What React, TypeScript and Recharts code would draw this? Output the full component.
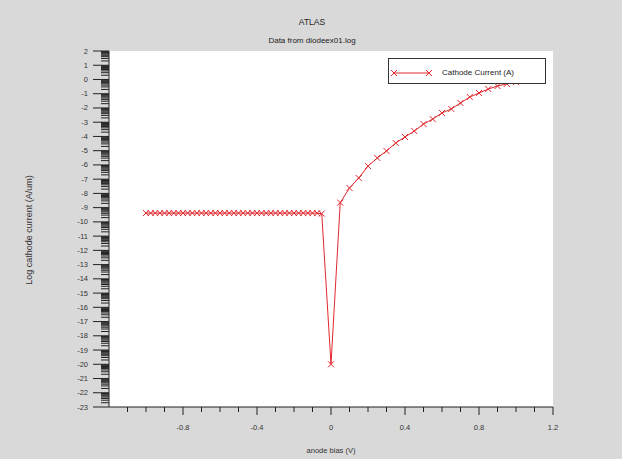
import React from 'react';
import { LineChart, Line, XAxis, YAxis, CartesianGrid, Legend } from 'recharts';

const titleText = 'ATLAS';
const subtitleText = 'Data from diodeex01.log';
const xLabel = 'anode bias (V)';
const yLabel = 'Log cathode current (A/um)';
const seriesName = 'Cathode Current (A)';

const anodeBias = [
  -1.0, -0.975, -0.95, -0.925, -0.9, -0.875, -0.85, -0.825, -0.8, -0.775,
  -0.75, -0.725, -0.7, -0.675, -0.65, -0.625, -0.6, -0.575, -0.55, -0.525,
  -0.5, -0.475, -0.45, -0.425, -0.4, -0.375, -0.35, -0.325, -0.3, -0.275,
  -0.25, -0.225, -0.2, -0.175, -0.15, -0.125, -0.1, -0.075, -0.05,
  0.0,
  0.05, 0.1, 0.15, 0.2, 0.25, 0.3, 0.35, 0.4, 0.45, 0.5,
  0.55, 0.6, 0.65, 0.7, 0.75, 0.8, 0.85, 0.9, 0.95, 1.0,
];

const cathodeLogCurrent = [
  -9.38, -9.38, -9.38, -9.38, -9.38, -9.38, -9.38, -9.38, -9.38, -9.38,
  -9.38, -9.38, -9.38, -9.38, -9.38, -9.38, -9.38, -9.38, -9.38, -9.38,
  -9.38, -9.38, -9.38, -9.38, -9.38, -9.38, -9.38, -9.38, -9.38, -9.38,
  -9.38, -9.38, -9.38, -9.38, -9.38, -9.38, -9.38, -9.39, -9.42,
  -20.0,
  -8.65, -7.62, -6.92, -6.08, -5.51, -5.02, -4.46, -4.04, -3.62, -3.13,
  -2.78, -2.35, -2.07, -1.65, -1.23, -0.95, -0.67, -0.46, -0.31, -0.19,
];

const xTicks = [
  -1.1, -1.0, -0.9, -0.8, -0.7, -0.6, -0.5, -0.4, -0.3, -0.2, -0.1, 0,
  0.1, 0.2, 0.3, 0.4, 0.5, 0.6, 0.7, 0.8, 0.9, 1.0, 1.1, 1.2,
];
const xTickLabels = [-0.8, -0.4, 0, 0.4, 0.8, 1.2];

const yMajorTicks = [
  2, 1, 0, -1, -2, -3, -4, -5, -6, -7, -8, -9, -10, -11, -12,
  -13, -14, -15, -16, -17, -18, -19, -20, -21, -22, -23,
];
const yMinorFactors = [2, 3, 4, 5, 6, 7, 8, 9];

const data = anodeBias.map((b, i) => ({ bias: b, current: cathodeLogCurrent[i] }));

const yTicks: number[] = [];
yMajorTicks.forEach((n) => {
  yTicks.push(n);
  if (n < 2) yMinorFactors.forEach((k) => yTicks.push(n + Math.log10(k)));
});

const FONT = '"Liberation Sans", Arial, Helvetica, sans-serif';
const RED = '#e0282e';
const AXIS = '#222';

const isMajor = (v: number) => Math.abs(v - Math.round(v)) < 1e-9;

const YTick = (props: any) => {
  const { x, y, payload } = props;
  const v = payload.value;
  if (isMajor(v)) {
    return (
      <g>
        <line x1={x - 16} y1={y} x2={x} y2={y} stroke={AXIS} strokeWidth={1} />
        <text x={x - 21} y={y} textAnchor="end" dominantBaseline="central" fontSize={7.5} fontFamily={FONT} fill="#333">
          {Math.round(v)}
        </text>
      </g>
    );
  }
  return <line x1={x - 8} y1={y} x2={x} y2={y} stroke={AXIS} strokeWidth={1} />;
};

const XTick = (props: any) => {
  const { x, y, payload } = props;
  const v = payload.value;
  const lab = xTickLabels.find((l) => Math.abs(l - v) < 1e-6);
  if (lab !== undefined) {
    return (
      <g>
        <line x1={x} y1={y} x2={x} y2={y + 8} stroke={AXIS} strokeWidth={1} />
        <text x={x} y={y + 20} textAnchor="middle" dominantBaseline="central" fontSize={7.5} fontFamily={FONT} fill="#333">
          {lab === 0 ? '0' : String(lab)}
        </text>
      </g>
    );
  }
  return <line x1={x} y1={y} x2={x} y2={y + 5} stroke={AXIS} strokeWidth={1} />;
};

const CrossDot = (props: any) => {
  const { cx, cy, index } = props;
  if (cx == null || cy == null) return <g key={`d${index}`} />;
  const s = 3;
  return (
    <path
      key={`d${index}`}
      d={`M${cx - s},${cy - s}L${cx + s},${cy + s}M${cx - s},${cy + s}L${cx + s},${cy - s}`}
      stroke={RED}
      strokeWidth={1}
      fill="none"
    />
  );
};

const LegendBox = () => (
  <div
    style={{
      width: 158,
      height: 26,
      boxSizing: 'border-box',
      background: '#fff',
      border: '1px solid #333',
      position: 'relative',
      fontFamily: FONT,
    }}
  >
    <svg width={50} height={24} style={{ position: 'absolute', left: 0, top: 0 }}>
      <line x1={5} y1={14} x2={40} y2={14} stroke={RED} strokeWidth={1} />
      <path d="M2,11L8,17M2,17L8,11" stroke={RED} strokeWidth={1} />
      <path d="M37,11L43,17M37,17L43,11" stroke={RED} strokeWidth={1} />
    </svg>
    <span
      style={{
        position: 'absolute',
        left: 53,
        top: 14,
        transform: 'translateY(-50%)',
        fontSize: 8,
        color: '#222',
        whiteSpace: 'nowrap',
        lineHeight: 1,
      }}
    >
      {seriesName}
    </span>
  </div>
);

export default function App() {
  return (
    <div
      style={{
        position: 'fixed',
        left: 0,
        top: 0,
        width: 622,
        height: 459,
        background: '#d9d9d9',
        fontFamily: FONT,
        overflow: 'hidden',
      }}
    >
      <div style={{ position: 'absolute', left: 312, top: 22, transform: 'translate(-50%,-50%)', fontSize: 8.5, color: '#222', whiteSpace: 'nowrap' }}>
        {titleText}
      </div>
      <div style={{ position: 'absolute', left: 312, top: 40, transform: 'translate(-50%,-50%)', fontSize: 8, color: '#222', whiteSpace: 'nowrap' }}>
        {subtitleText}
      </div>
      <div
        style={{
          position: 'absolute',
          left: 29,
          top: 230,
          transform: 'translate(-50%,-50%) rotate(-90deg)',
          fontSize: 9,
          color: '#333',
          whiteSpace: 'nowrap',
        }}
      >
        {yLabel}
      </div>
      <LineChart width={622} height={459} data={data} margin={{ top: 51, right: 69, bottom: 0, left: 0 }}>
        <CartesianGrid horizontal={false} vertical={false} fill="#ffffff" />
        <XAxis
          dataKey="bias"
          type="number"
          domain={[-1.2, 1.2]}
          ticks={xTicks}
          interval={0}
          height={52}
          tickSize={0}
          tickMargin={0}
          tickLine={false}
          tick={<XTick />}
          axisLine={{ stroke: AXIS }}
          allowDataOverflow
          label={{ value: xLabel, position: 'insideBottom', offset: 6, fontSize: 7.5, fill: '#333', fontFamily: FONT }}
        />
        <XAxis xAxisId="top" orientation="top" type="number" domain={[-1.2, 1.2]} height={0} tick={false} tickLine={false} axisLine={{ stroke: '#555' }} />
        <YAxis
          type="number"
          domain={[-23, 2]}
          ticks={yTicks}
          interval={0}
          width={109}
          tickSize={0}
          tickMargin={0}
          tickLine={false}
          tick={<YTick />}
          axisLine={{ stroke: AXIS }}
          allowDataOverflow
        />
        <YAxis yAxisId="right" orientation="right" type="number" domain={[-23, 2]} width={0} tick={false} tickLine={false} axisLine={{ stroke: '#555' }} />
        <Legend
          layout="vertical"
          align="center"
          verticalAlign="middle"
          content={<LegendBox />}
          wrapperStyle={{ position: 'absolute', left: 388, top: 58, width: 158, height: 26 }}
        />
        <Line
          type="linear"
          dataKey="current"
          name={seriesName}
          stroke={RED}
          strokeWidth={1}
          dot={CrossDot}
          activeDot={false}
          isAnimationActive={false}
        />
      </LineChart>
    </div>
  );
}
